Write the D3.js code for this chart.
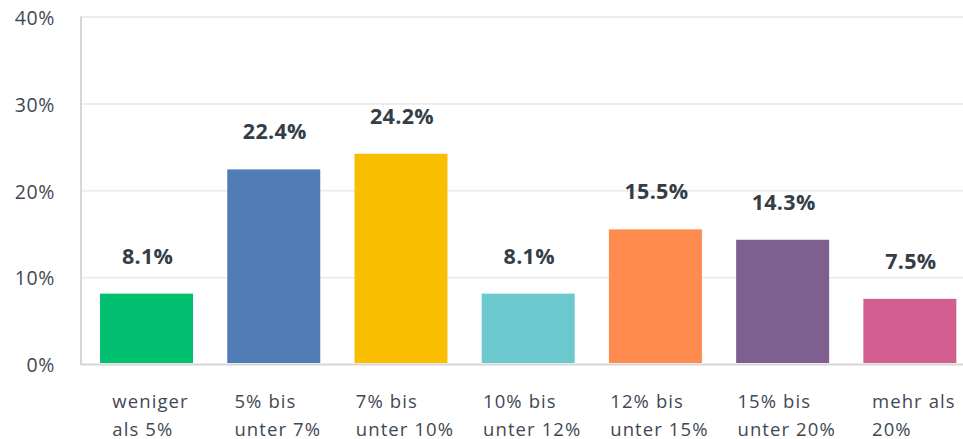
<!DOCTYPE html>
<html>
<head>
<meta charset="utf-8">
<script src="https://cdn.jsdelivr.net/npm/d3@7"></script>
<style>
  body { margin: 0; background: #fff; }
  svg { display: block; font-family: "Open Sans", sans-serif; }
</style>
</head>
<body>
<svg width="963" height="439"></svg>
<script>
const categories = [
  ['weniger', 'als 5%'],
  ['5% bis', 'unter 7%'],
  ['7% bis', 'unter 10%'],
  ['10% bis', 'unter 12%'],
  ['12% bis', 'unter 15%'],
  ['15% bis', 'unter 20%'],
  ['mehr als', '20%']
];
const values = [8.1, 22.4, 24.2, 8.1, 15.5, 14.3, 7.5];
const colors = ['#00bf6f', '#507cb6', '#f9be00', '#6bc8cd', '#ff8b4f', '#7f5f8f', '#d25f90'];
const yTicks = [0, 10, 20, 30, 40];

const svg = d3.select('svg');
const plotL = 81, plotR = 963, plotT = 16.5, plotB = 364;

const x = d3.scaleBand()
  .domain(d3.range(values.length))
  .range([83, 973.4])
  .paddingInner(0.269)
  .paddingOuter(0.134);

const y = d3.scaleLinear().domain([0, 40]).range([plotB, plotT]);

// gridlines + tick labels
const yAxis = svg.append('g')
  .attr('transform', `translate(${plotL},0)`)
  .call(d3.axisLeft(y).tickValues(yTicks).tickSize(-(plotR - plotL)).tickFormat(d => d + '%'));
yAxis.select('.domain').remove();
yAxis.selectAll('.tick line')
  .attr('stroke', d => d === 0 ? '#d6d6d6' : '#ededed')
  .attr('stroke-width', 2);
yAxis.selectAll('.tick text')
  .attr('x', -26)
  .attr('dy', '0.40em')
  .attr('fill', '#3f4954')
  .attr('font-size', 19.5)
  .attr('letter-spacing', 0.6)
  .attr('font-family', '"Open Sans", sans-serif');

// left axis line
svg.append('line')
  .attr('x1', plotL).attr('x2', plotL)
  .attr('y1', plotT).attr('y2', plotB + 1)
  .attr('stroke', '#d6d6d6')
  .attr('stroke-width', 2);

// bars
svg.append('g').selectAll('rect')
  .data(values)
  .join('rect')
  .attr('x', (d, i) => x(i))
  .attr('y', d => y(d))
  .attr('width', x.bandwidth())
  .attr('height', d => y(0) - y(d) - 1)
  .attr('fill', (d, i) => colors[i]);

// value labels
svg.append('g').selectAll('text')
  .data(values)
  .join('text')
  .attr('x', (d, i) => x(i) + x.bandwidth() / 2 + 1)
  .attr('y', d => y(d) - 30)
  .attr('text-anchor', 'middle')
  .attr('font-size', 21.5)
  .attr('font-weight', 700)
  .attr('letter-spacing', 0.3)
  .attr('fill', '#333e48')
  .text(d => d.toFixed(1) + '%');

// category labels (left aligned block, centered on bar)
const catG = svg.append('g');
categories.forEach((lines, i) => {
  const t = catG.append('text')
    .attr('font-size', 18.5)
    .attr('letter-spacing', 1.1)
    .attr('fill', '#3f4954');
  lines.forEach((ln, j) => {
    t.append('tspan').attr('x', 0).attr('y', 408 + j * 28).text(ln);
  });
  const w = t.node().getBBox().width;
  const cx = x(i) + x.bandwidth() / 2 + 4;
  t.attr('transform', `translate(${cx - w / 2},0)`);
});
</script>
</body>
</html>
